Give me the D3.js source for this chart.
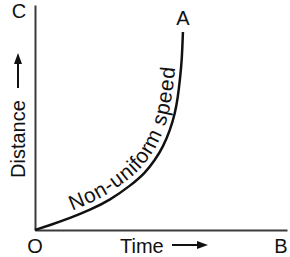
<!DOCTYPE html>
<html>
<head>
<meta charset="utf-8">
<script src="https://cdn.jsdelivr.net/npm/d3@7"></script>
<style>
  body { margin: 0; background: #fff; }
  text { font-family: "Liberation Sans", Arial, sans-serif; fill: #111; }
</style>
</head>
<body>
<svg id="chart"></svg>
<script>
////////////////////////////////////////////////////////////////////////////////
////////////////////////////////////////////////////// Distance-time graph data
////////////////////////////////////////////////////////////////////////////////

// Curve points (arbitrary units)
const timeVals = [0, 0.6, 1.39, 2.18, 2.98, 3.77, 4.37, 4.76, 5.08, 5.36, 5.56, 5.67, 5.75, 5.83, 5.87];
const distanceVals = [0, 0.22, 0.53, 0.89, 1.33, 1.96, 2.53, 3.11, 3.69, 4.44, 5.2, 5.91, 6.67, 7.56, 8.8];

// Labels
const curveLabel = "Non-uniform speed";
const xTitle = "Time";
const yTitle = "Distance";
const pointLabels = ["O", "A", "B", "C"];

// SVG configurations
const width = 290;
const height = 257;

const svg = d3.select("#chart")
              .attr("width", width)
              .attr("height", height);

// Scales
const xScale = d3.scaleLinear()
                 .domain([0, 10])
                 .range([35, 287]);
const yScale = d3.scaleLinear()
                 .domain([0, 10])
                 .range([230, 5]);

// Axes (no ticks, just the lines)
svg.append("g")
     .attr("class", "xAxis")
     .attr("transform", `translate(0, ${yScale(0)})`)
     .call(d3.axisBottom(xScale).ticks(0).tickSizeOuter(0));
svg.append("g")
     .attr("class", "yAxis")
     .attr("transform", `translate(${xScale(0)}, 0)`)
     .call(d3.axisLeft(yScale).ticks(0).tickSizeOuter(0));
svg.selectAll(".domain")
     .attr("stroke", "#3a3a3a")
     .attr("stroke-width", 2);

// Curve
const data = timeVals.map(function(t, i) {
  return { time: t, distance: distanceVals[i] };
});
const line = d3.line()
               .x(function(d) { return xScale(d.time); })
               .y(function(d) { return yScale(d.distance); })
               .curve(d3.curveBasis);

svg.append("path")
     .attr("id", "curve")
     .attr("d", line(data))
     .attr("fill", "none")
     .attr("stroke", "#111")
     .attr("stroke-width", 2.5);

// Label along the curve
svg.append("text")
     .attr("dy", -6)
     .style("font-size", "21px")
   .append("textPath")
     .attr("href", "#curve")
     .attr("startOffset", 42)
     .attr("textLength", 196)
     .attr("lengthAdjust", "spacing")
     .text(curveLabel);

// Point labels
const last = data[data.length - 1];
const labelPos = [
  [xScale(0), 253, "middle"],
  [xScale(last.time), 25, "middle"],
  [xScale(10) - 6, 253, "middle"],
  [19, 18, "middle"]
];
svg.selectAll(".pointLabel")
   .data(pointLabels)
   .join("text")
     .attr("class", "pointLabel")
     .attr("x", function(d, i) { return labelPos[i][0]; })
     .attr("y", function(d, i) { return labelPos[i][1]; })
     .style("text-anchor", function(d, i) { return labelPos[i][2]; })
     .style("font-size", "20px")
     .text(function(d) { return d; });

// Axis titles with arrows
svg.append("text")
     .attr("x", 120)
     .attr("y", 253)
     .style("font-size", "20px")
     .text(xTitle);
svg.append("text")
     .attr("transform", "translate(25, 178) rotate(-90)")
     .style("font-size", "20px")
     .text(yTitle);

function arrow(x1, y1, x2, y2) {
  const ang = Math.atan2(y2 - y1, x2 - x1);
  const len = 11, half = 4;
  const bx = x2 - len * Math.cos(ang), by = y2 - len * Math.sin(ang);
  svg.append("line")
       .attr("x1", x1).attr("y1", y1)
       .attr("x2", bx).attr("y2", by)
       .attr("stroke", "#111")
       .attr("stroke-width", 2);
  svg.append("path")
       .attr("d", `M${x2},${y2}L${bx - half * Math.sin(ang)},${by + half * Math.cos(ang)}L${bx + half * Math.sin(ang)},${by - half * Math.cos(ang)}Z`)
       .attr("fill", "#111");
}
arrow(172, 245, 208, 245);
arrow(18, 88, 18, 53);
</script>
</body>
</html>
